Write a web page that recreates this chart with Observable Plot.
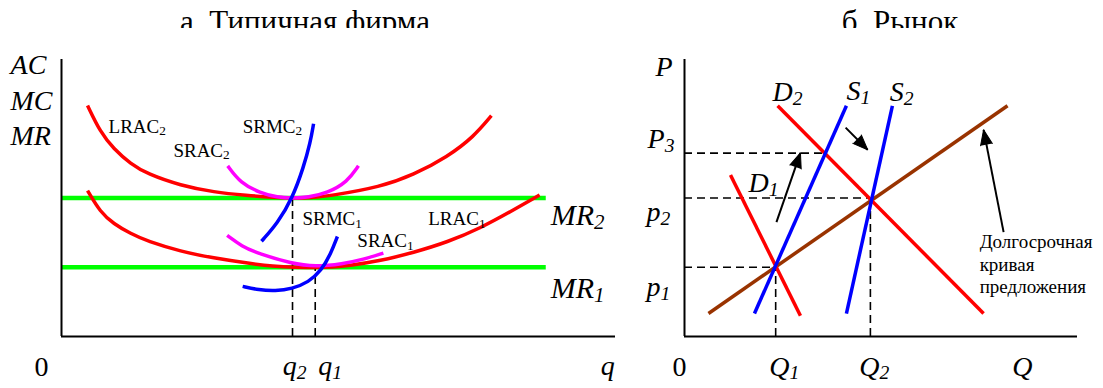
<!DOCTYPE html>
<html>
<head>
<meta charset="utf-8">
<script src="https://cdn.jsdelivr.net/npm/d3@7"></script>
<script src="https://cdn.jsdelivr.net/npm/@observablehq/plot@0.6"></script>
<style>
  body { margin: 0; background: #fff; }
  #wrap { position: relative; width: 1103px; height: 388px; overflow: hidden; background: #fff; }
  #wrap svg { position: absolute; top: 0; }
  .title { position: absolute; top: 0; height: 28px; overflow: hidden; z-index: 2;
           font-family: "Liberation Serif", "DejaVu Serif", serif; font-size: 31px; line-height: 31px;
           white-space: nowrap; text-align: center; color: #000; }
  .title div { padding-top: 6px; }
</style>
</head>
<body>
<div id="wrap">
  <div class="title" style="left:0px;width:610px"><div>а. Типичная фирма</div></div>
  <div class="title" style="left:700px;width:400px"><div>б. Рынок</div></div>
</div>
<script>
// ---------- Panel a: typical firm (quantity q, cost/revenue) ----------
const lrac2 = [[4.7,83.4],[7.0,73.8],[9.4,67.8],[12.5,62.3],[15.5,58.7],[21.5,54.5],[27.5,52.1],[33.5,50.9],[38.3,50.2],[41.7,49.9],[45.0,50.1],[48.6,50.8],[57.6,54.0],[63.5,58.3],[69.7,64.9],[74.4,72.1],[77.6,79.7]];
const lrac1 = [[4.7,52.7],[7.0,44.9],[9.4,40.7],[12.5,37.1],[15.5,34.4],[21.5,30.7],[27.5,28.3],[33.5,26.5],[38.3,25.3],[42.0,24.9],[45.8,24.9],[49.0,25.1],[51.6,25.5],[57.6,27.3],[63.5,30.3],[69.7,34.1],[75.6,39.1],[81.6,45.7],[86.3,51.1]];
const srac2 = [[30.0,61.6],[32.3,55.4],[35.9,51.8],[39.0,50.2],[41.7,49.9],[44.5,50.2],[48.0,51.8],[51.6,55.8],[53.6,61.6]];
const srmc2 = [[36.1,34.4],[39.0,40.9],[41.7,50],[43.7,61.2],[44.9,69.9],[45.5,76.8]];
const srac1 = [[29.9,36.5],[32.5,32.6],[35.6,29.9],[41.6,26.3],[45.8,25.2],[50.7,26.2],[54.5,27.8],[58.1,30.1]];
const srmc1 = [[32.7,18.1],[35.6,16.8],[38.6,16.4],[41.6,17.2],[44.6,19.6],[46.9,23.8],[48.6,29.9],[49.8,36.1]];
const mrLevels = [50, 25];
const mrEnd = 87.5;
const firmEquilibria = [{q: 41.7, p: 50}, {q: 45.8, p: 25}];
const firmAxisLabels = [{text: "AC", x: -9.2, y: 94.6}, {text: "MC", x: -9.2, y: 81.9}, {text: "MR", x: -9.2, y: 69.2}];
const firmCurveLabels = [
  {text: "LRAC_2", x: 8.5, y: 73.6}, {text: "SRAC_2", x: 20.2, y: 64.9}, {text: "SRMC_2", x: 32.7, y: 73.6},
  {text: "SRMC_1", x: 43.5, y: 40.2}, {text: "LRAC_1", x: 66.2, y: 40.2}, {text: "SRAC_1", x: 53.4, y: 32.2}
];
const firmMRLabels = [{text: "MR_2", x: 88.3, y: 40.2}, {text: "MR_1", x: 88.3, y: 13.8}];
const firmTickLabels = [{text: "q_2", x: 42.1, y: -14}, {text: "q_1", x: 48.5, y: -14}, {text: "q", x: 98.6, y: -14}];
const firmOrigin = [{text: "0", x: -3.6, y: -14.1}];

// ---------- Panel b: market (quantity Q, price P) ----------
const d1 = [[11.7,58.3],[29.5,7.5]];
const s1 = [[17.8,8.3],[41.2,83.3]];
const d2 = [[23.7,83.3],[76.1,8.3]];
const s2 = [[41.2,8.3],[52.9,83.3]];
const longRunSupply = [[6.1,8.3],[82.2,83.3]];
const marketEquilibria = [{q: 23.2, p: 25}, {q: 47.3, p: 50}];
const shortRunPeak = [{q: 35.8, p: 66.2}];
const shifts = [
  {x1: 23.4, y1: 41.3, x2: 29.5, y2: 66.3},
  {x1: 41.0, y1: 75.4, x2: 46.6, y2: 67.4},
  {x1: 81.2, y1: 37.7, x2: 76.1, y2: 74.6}
];
const marketAxisLabels = [{text: "P", x: -7.4, y: 94.2}, {text: "P_3", x: -9.4, y: 68.0}, {text: "p_2", x: -9.7, y: 41.7}, {text: "p_1", x: -9.7, y: 14.5}];
const marketCurveLabels = [{text: "D_2", x: 22.4, y: 85.0}, {text: "S_1", x: 41.2, y: 85.5}, {text: "S_2", x: 52.2, y: 85.0}, {text: "D_1", x: 16.3, y: 52.3}];
const marketTickLabels = [{text: "Q_1", x: 25.4, y: -14.1}, {text: "Q_2", x: 48.3, y: -14.1}, {text: "Q", x: 86.0, y: -14.1}];
const marketOrigin = [{text: "0", x: -1.3, y: -14.1}];
const note = [{text: "Долгосрочная\nкривая\nпредложения", x: 75.1, y: 15.6}];

// ---------- helpers ----------
const serif = "'Liberation Serif', 'DejaVu Serif', serif";
const RED = "#ff0000", GREEN = "#00ff00", MAGENTA = "#ff00ff", BLUE = "#0000ff", BROWN = "#993300";
const H = 388, MT = 59, MB = 52;

function labels(data, opts) {
  return Plot.text(data, Object.assign({x: "x", y: "y", text: "text", fontFamily: serif, lineAnchor: "bottom", textAnchor: "start", fill: "black"}, opts));
}
function curve(data, color) {
  return Plot.line(data, {curve: "basis", stroke: color, strokeWidth: 3.5, strokeLinecap: "butt"});
}
function subscripts(svg) {
  const ns = "http://www.w3.org/2000/svg";
  svg.querySelectorAll("text").forEach(t => {
    if (t.children.length) return;
    const s = t.textContent, i = s.indexOf("_");
    if (i < 0) return;
    t.textContent = "";
    const a = document.createElementNS(ns, "tspan");
    a.textContent = s.slice(0, i);
    const b = document.createElementNS(ns, "tspan");
    b.textContent = s.slice(i + 1);
    b.setAttribute("style", "font-size:70%");
    b.setAttribute("dy", "0.2em");
    t.append(a, b);
  });
}

// ---------- Panel a ----------
const WA = 620, MLA = 61, MRA = 5;
const firm = Plot.plot({
  width: WA, height: H, marginLeft: MLA, marginRight: MRA, marginTop: MT, marginBottom: MB,
  x: {domain: [0, 100], axis: null},
  y: {domain: [0, 100], axis: null},
  marks: [
    Plot.ruleY(mrLevels, {x1: 0, x2: mrEnd, stroke: GREEN, strokeWidth: 4.5}),
    Plot.ruleX(firmEquilibria, {x: "q", y1: 0, y2: "p", stroke: "black", strokeWidth: 1.6, strokeDasharray: "8,5"}),
    curve(lrac2, RED),
    curve(lrac1, RED),
    curve(srac2, MAGENTA),
    curve(srac1, MAGENTA),
    curve(srmc2, BLUE),
    curve(srmc1, BLUE),
    Plot.ruleX([0], {y1: 0, y2: 100, stroke: "black", strokeWidth: 2}),
    Plot.ruleY([0], {x1: 0, x2: 100, stroke: "black", strokeWidth: 2}),
    labels(firmAxisLabels, {fontSize: 28, fontStyle: "italic"}),
    labels(firmCurveLabels, {fontSize: 19}),
    labels(firmMRLabels, {fontSize: 30, fontStyle: "italic"}),
    labels(firmTickLabels, {fontSize: 28, fontStyle: "italic", textAnchor: "middle"}),
    labels(firmOrigin, {fontSize: 28, textAnchor: "middle"})
  ]
});
firm.style.left = "0px";
subscripts(firm);

// ---------- Panel b ----------
const WB = 483, MLB = 64, MRB = 26;
const kx = (WB - MLB - MRB) / 100, ky = (H - MT - MB) / 100;
const market = Plot.plot({
  width: WB, height: H, marginLeft: MLB, marginRight: MRB, marginTop: MT, marginBottom: MB,
  x: {domain: [0, 100], axis: null},
  y: {domain: [0, 100], axis: null},
  marks: [
    Plot.ruleY(marketEquilibria.concat(shortRunPeak), {y: "p", x1: 0, x2: "q", stroke: "black", strokeWidth: 1.6, strokeDasharray: "8,5"}),
    Plot.ruleX(marketEquilibria, {x: "q", y1: 0, y2: "p", stroke: "black", strokeWidth: 1.6, strokeDasharray: "8,5"}),
    Plot.line(longRunSupply, {stroke: BROWN, strokeWidth: 3.5, strokeLinecap: "butt"}),
    Plot.line(d1, {stroke: RED, strokeWidth: 3.5, strokeLinecap: "butt"}),
    Plot.line(d2, {stroke: RED, strokeWidth: 3.5, strokeLinecap: "butt"}),
    Plot.line(s1, {stroke: BLUE, strokeWidth: 3.5, strokeLinecap: "butt"}),
    Plot.line(s2, {stroke: BLUE, strokeWidth: 3.5, strokeLinecap: "butt"}),
    Plot.link(shifts, {x1: "x1", y1: "y1", x2: "x2", y2: "y2", stroke: "black", strokeWidth: 2}),
    Plot.vector(shifts, {x: "x2", y: "y2", shape: "spike", anchor: "end", length: 15, r: 6,
      rotate: d => Math.atan2((d.x2 - d.x1) * kx, (d.y2 - d.y1) * ky) * 180 / Math.PI,
      fill: "black", stroke: "black", strokeWidth: 1}),
    Plot.ruleX([0], {y1: 0, y2: 100, stroke: "black", strokeWidth: 2}),
    Plot.ruleY([0], {x1: 0, x2: 100, stroke: "black", strokeWidth: 2}),
    labels(marketAxisLabels, {fontSize: 28, fontStyle: "italic"}),
    labels(marketCurveLabels, {fontSize: 28, fontStyle: "italic"}),
    labels(marketTickLabels, {fontSize: 28, fontStyle: "italic", textAnchor: "middle"}),
    labels(marketOrigin, {fontSize: 28, textAnchor: "middle"}),
    labels(note, {fontSize: 19, lineHeight: 1.18})
  ]
});
market.style.left = "620px";
subscripts(market);

const wrap = document.getElementById("wrap");
wrap.append(firm, market);
</script>
</body>
</html>
